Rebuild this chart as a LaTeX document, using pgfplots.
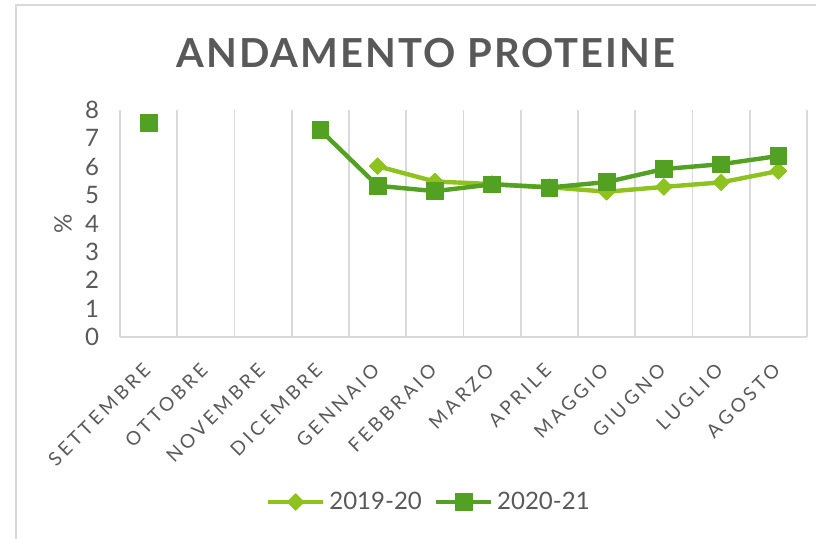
\documentclass[border=0pt]{standalone}
\usepackage{fontspec}
\setmainfont{Lato}
\usepackage{pgfplots}
\pgfplotsset{compat=1.18}
\definecolor{Light}{HTML}{8DC21F}
\definecolor{Dark}{HTML}{52A123}
\definecolor{TextGray}{HTML}{595959}
\definecolor{GridGray}{HTML}{D9D9D9}

\begin{document}
\begin{tikzpicture}
\path[use as bounding box] (0,0) rectangle (408pt,269.5pt);
\draw[GridGray, line width=0.8pt] (8pt,0) -- (8pt,267pt) -- (408pt,267pt);
\node[TextGray, font=\fontsize{20}{24}\selectfont\bfseries\addfontfeatures{LetterSpace=5}] at (213pt,243pt) {ANDAMENTO PROTEINE};
\begin{axis}[
  at={(60pt,101pt)}, anchor=south west,
  scale only axis, width=343.5pt, height=113.5pt,
  xmin=-0.5, xmax=11.5, ymin=0, ymax=8,
  xtick={0,...,11},
  xticklabels={SETTEMBRE,OTTOBRE,NOVEMBRE,DICEMBRE,GENNAIO,FEBBRAIO,MARZO,APRILE,MAGGIO,GIUGNO,LUGLIO,AGOSTO},
  minor xtick={-0.5,0.5,...,11.5},
  xminorgrids, minor grid style={GridGray, line width=0.8pt},
  ytick={0,...,8},
  major tick length=0pt, minor tick length=0pt,
  axis x line*=bottom, axis y line*=left,
  axis line style={GridGray, line width=0.8pt, -},
  /pgf/number format/assume math mode=true,
  yticklabel style={font=\fontsize{12}{14}\selectfont, text=TextGray, xshift=-7pt},
  xticklabel style={font=\fontsize{9.5}{10}\selectfont\addfontfeatures{LetterSpace=18}, text=TextGray, rotate=45, anchor=east, xshift=-7.8pt, yshift=-10.1pt},
  ylabel={\%},
  ylabel style={font=\fontsize{12}{14}\selectfont, text=TextGray, at={(axis description cs:-0.083,0.5)}, anchor=center},
  unbounded coords=jump,
  legend style={draw=none, fill=none, at={(axis description cs:0.451,-0.727)}, anchor=center,
    legend columns=2, font=\fontsize{12}{14}\selectfont, text=TextGray,
    /tikz/every even column/.style={column sep=4pt}},
  legend image code/.code={\draw[mark repeat=2, mark phase=2] plot coordinates {(0pt,0pt) (13.75pt,0pt) (27.5pt,0pt)};},
]
\addplot[Light, line width=2.2pt, line join=round, mark=square*, mark size=3pt, mark options={solid, rotate=45, line width=0.3pt}] coordinates {
  (0,nan)(1,nan)(2,nan)(3,nan)(4,6.02)(5,5.48)(6,5.39)(7,5.28)(8,5.12)(9,5.29)(10,5.45)(11,5.85)};
\addlegendentry{2019-20}
\addplot[Dark, line width=2.2pt, line join=round, mark=square*, mark size=4.2pt, mark options={solid, line width=0.3pt}] coordinates {
  (0,7.56)(1,nan)(2,nan)(3,7.29)(4,5.33)(5,5.14)(6,5.38)(7,5.27)(8,5.46)(9,5.92)(10,6.09)(11,6.38)};
\addlegendentry{2020-21}
\end{axis}
\end{tikzpicture}
\end{document}
